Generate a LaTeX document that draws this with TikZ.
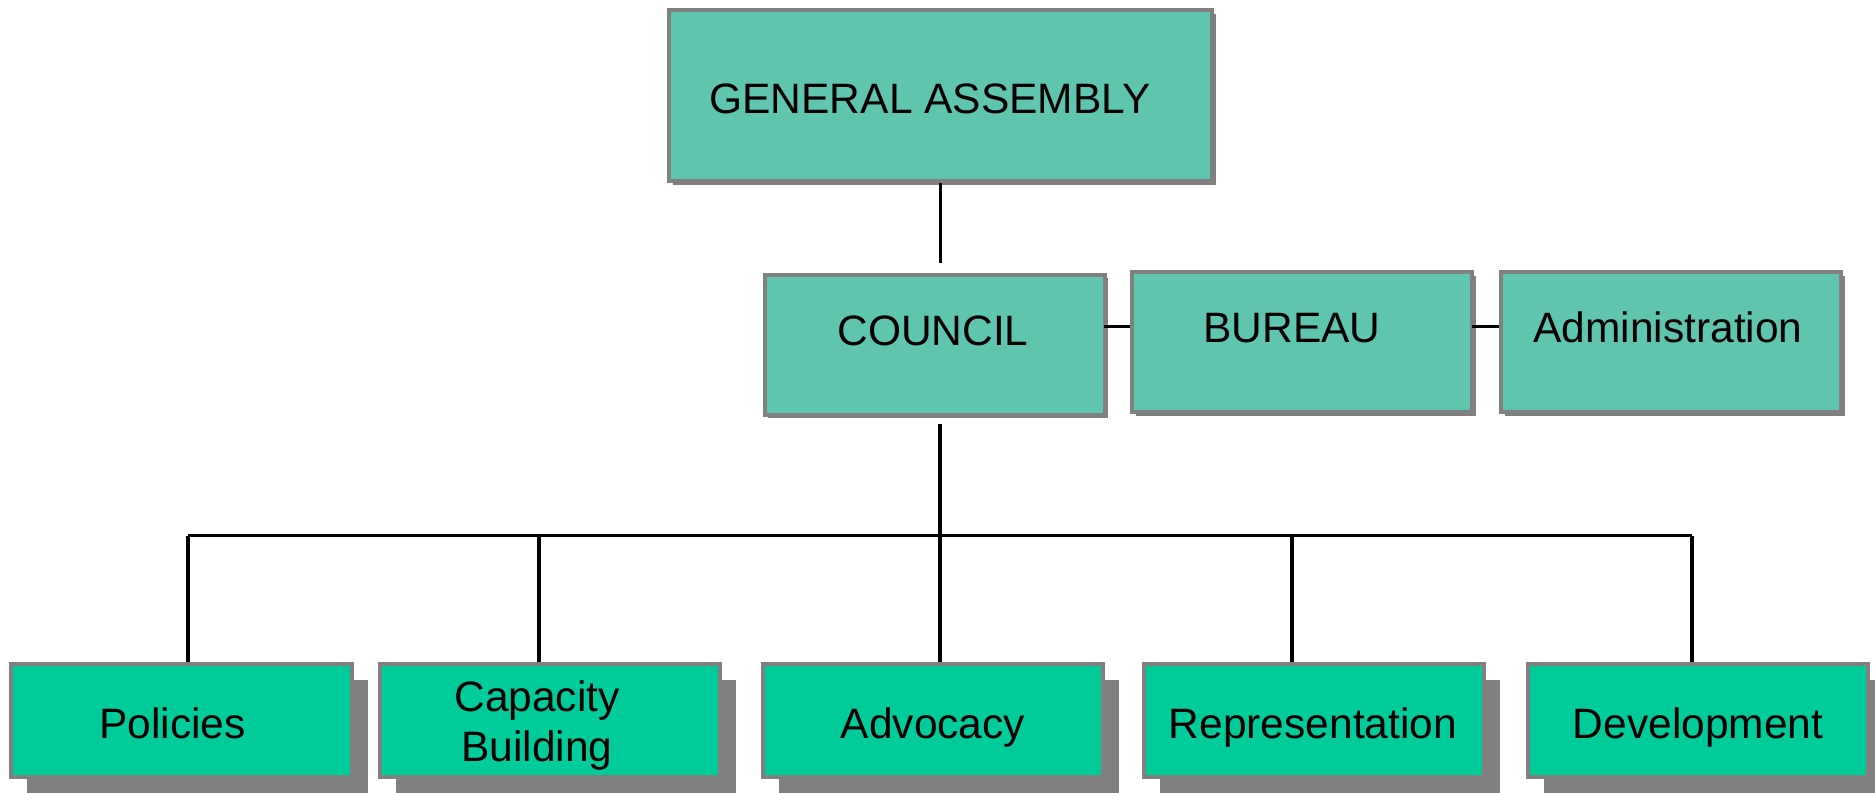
\documentclass[tikz,border=0pt]{standalone}
\usepackage{fontspec}
\setmainfont{Liberation Sans}
\usetikzlibrary{shadows,calc}
\definecolor{topfill}{HTML}{5FC5AE}
\definecolor{botfill}{HTML}{00CC99}
\definecolor{edgegray}{HTML}{808080}
\tikzset{
  topbox/.style={draw=edgegray, line width=1.6pt, fill=topfill, inner sep=0pt,
    drop shadow={shadow xshift=1.5pt, shadow yshift=-1.5pt, fill=edgegray, opacity=1}},
  botbox/.style={draw=edgegray, line width=1.6pt, fill=botfill, inner sep=0pt,
    minimum width=136pt, minimum height=45.2pt,
    drop shadow={shadow xshift=6.4pt, shadow yshift=-6.4pt, fill=edgegray, opacity=1}},
  lbl/.style={font=\fontsize{17}{20}\selectfont, align=center, inner sep=0pt, anchor=base},
  conn/.style={line width=1.3pt, black}
}
\begin{document}
\begin{tikzpicture}[x=0.4pt,y=-0.4pt]
\useasboundingbox (0,0) rectangle (1875,793);
% top level
\node[topbox, minimum width=217pt, minimum height=68.5pt] (ga) at (940.5,95.5) {};
\node[lbl] (gat) at (930,113.5) {GENERAL ASSEMBLY};
% second level
\node[topbox, minimum width=136pt, minimum height=56pt] (council) at (934.5,344.5) {};
\node[lbl] (councilt) at (933,345.5) {COUNCIL};
\node[topbox, minimum width=136pt, minimum height=56pt] (bureau) at (1302,342) {};
\node[lbl] (bureaut) at (1292,342) {BUREAU};
\node[topbox, minimum width=136pt, minimum height=56pt] (admin) at (1671,342) {};
\node[lbl] (admint) at (1668,342) {Administration};
% bottom level
\node[botbox] (pol) at (181.5,720) {};
\node[lbl] (polt) at (172.5,738) {Policies};
\node[botbox] (cap) at (549.5,720) {};
\node[lbl] (capt) at (537,761.7) {Capacity\\Building};
\node[botbox] (adv) at (933,720) {};
\node[lbl] (advt) at (933,738) {Advocacy};
\node[botbox] (rep) at (1314,720) {};
\node[lbl] (rept) at (1313,738) {Representation};
\node[botbox] (dev) at (1697.5,720) {};
\node[lbl] (devt) at (1698,738) {Development};
% connectors
\coordinate (bus) at (940,535.5);
\coordinate (bl) at (188,535.5);
\coordinate (br) at (1692,535.5);
\coordinate (d2) at (539,535.5);
\coordinate (d4) at (1292,535.5);
\coordinate (hl) at (0,326.5);
\draw[conn, shorten >=4pt] (ga.south) -- (ga.south |- council.north);
\draw[conn, shorten <=2.8pt] (bus |- council.south) -- (bus);
\coordinate (c1) at ($(council.east |- hl) + (-2.4,0)$);
\draw[conn] (c1) -- (c1 -| bureau.west);
\coordinate (c2) at ($(bureau.east |- hl) + (-2.4,0)$);
\draw[conn] (c2) -- (c2 -| admin.west);
\draw[conn] (bl) -- (br);
\draw[conn] (bl) -- (bl |- pol.north);
\draw[conn] (d2) -- (d2 |- cap.north);
\draw[conn] (bus) -- (bus |- adv.north);
\draw[conn] (d4) -- (d4 |- rep.north);
\draw[conn] (br) -- (br |- dev.north);
\end{tikzpicture}
\end{document}
